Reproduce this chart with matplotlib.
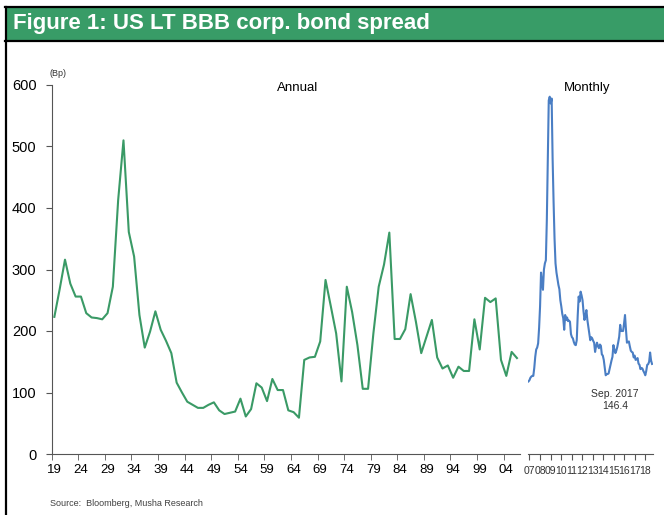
import matplotlib
matplotlib.use("Agg")
import matplotlib.pyplot as plt
from matplotlib.patches import Rectangle
from matplotlib.lines import Line2D
import numpy as np

plt.rcParams['font.family'] = ['Liberation Sans', 'DejaVu Sans']

# Annual spread 1919-2006 (bp)
years = np.arange(1919, 2007)
annual = [223, 268, 316, 277, 256, 256, 229, 222, 221, 219,
          229, 272, 413, 510, 361, 321, 226, 173, 199, 232,
          202, 184, 164, 116, 100, 85, 80, 75, 75, 80,
          84, 71, 65, 67, 69, 90, 61, 73, 115, 108,
          86, 122, 104, 104, 71, 68, 59, 153, 157, 158,
          183, 283, 240, 196, 118, 272, 231, 177, 106, 106,
          196, 272, 308, 360, 187, 187, 203, 260, 215, 164,
          191, 218, 157, 139, 144, 124, 142, 135, 135, 219,
          170, 254, 247, 253, 153, 127, 166, 156]
annual_labels = [f"{y % 100:02d}" for y in range(1919, 2005, 5)]

# Monthly spread Jan 2007 - Sep 2017 (bp)
monthly = [118, 120, 124, 126, 127, 127, 140, 158, 170, 173,
           180, 205, 240, 295, 280, 267, 300, 310, 315, 380,
           480, 575, 581, 570, 578, 480, 410, 350, 310, 295,
           285, 275, 268, 250, 240, 228, 221, 202, 226, 218,
           222, 216, 217, 215, 195, 190, 188, 182, 178, 177,
           185, 225, 256, 248, 264, 258, 250, 232, 218, 225,
           234, 218, 207, 195, 185, 190, 188, 184, 181, 166,
           175, 181, 175, 172, 178, 176, 162, 160, 153, 140,
           128, 130, 130, 131, 138, 145, 152, 158, 177, 170,
           164, 168, 174, 182, 191, 210, 200, 200, 200, 212,
           226, 202, 181, 182, 183, 175, 168, 166, 165, 157,
           160, 153, 154, 156, 147, 145, 138, 140, 139, 135,
           132, 128, 135, 145, 146, 150, 165, 152, 146.4]
month_labels = ["07", "08", "09", "10", "11", "12", "13", "14", "15", "16", "17", "18"]

green = "#3a9a66"
blue = "#4a7ec4"
spine_col = "#555555"

W, H = 664, 515
fig = plt.figure(figsize=(W / 100, H / 100), dpi=100)

def fx(px):
    return px / W

def fy(py):
    return 1 - py / H

# title bar
fig.add_artist(Rectangle((fx(5), fy(40.5)), 1 - fx(5), fy(6.5) - fy(40.5),
                         transform=fig.transFigure, facecolor="#389c67", edgecolor="none"))
fig.add_artist(Line2D([fx(5), 1], [fy(6.5), fy(6.5)], transform=fig.transFigure, color="black", lw=1.6))
fig.add_artist(Line2D([fx(5), 1], [fy(40.5), fy(40.5)], transform=fig.transFigure, color="black", lw=1.6))
fig.add_artist(Line2D([fx(6), fx(6)], [0, fy(6.5)], transform=fig.transFigure, color="black", lw=1.6))
fig.text(fx(13), fy(24), "Figure 1: US LT BBB corp. bond spread", color="white",
         fontsize=16, fontweight="bold", va="center", ha="left")

# annual panel
ax1 = fig.add_axes([fx(51.7), 1 - 454 / H, fx(519.6 - 51.7), 369 / H])
ax1.plot(years, annual, color=green, lw=1.5)
ax1.set_xlim(1918.5, 2006.5)
ax1.set_ylim(0, 600)
ax1.set_yticks(range(0, 601, 100))
ax1.set_xticks(np.arange(1919, 2005, 5))
ax1.set_xticklabels(annual_labels, fontsize=9.5)
ax1.set_xticks(np.arange(1918.5, 2004, 5), minor=True)
ax1.tick_params(axis="x", which="major", length=0, pad=7)
ax1.tick_params(axis="x", which="minor", length=4, color=spine_col, direction="out")
ax1.tick_params(axis="y", length=4, color=spine_col, labelsize=10.5, pad=7)
for s in ["top", "right"]:
    ax1.spines[s].set_visible(False)
for s in ["left", "bottom"]:
    ax1.spines[s].set_color(spine_col)
fig.text(fx(298), fy(88), "Annual", ha="center", va="center", fontsize=9.5)
fig.text(fx(58), fy(74), "(Bp)", ha="center", va="center", fontsize=6.5, color="#333333")

# monthly panel
idx = np.arange(len(monthly))
ax2 = fig.add_axes([fx(528), 1 - 454 / H, fx(125), 369 / H])
ax2.plot(idx, monthly, color=blue, lw=1.5)
ax2.set_xlim(-0.5, 129)
ax2.set_ylim(0, 600)
ax2.set_yticks([])
ax2.set_xticks(np.linspace(1, 121, 12))
ax2.set_xticklabels(month_labels, fontsize=7.5, color="#333333")
ax2.tick_params(axis="x", length=4, color=spine_col, pad=5)
for s in ["top", "right", "left"]:
    ax2.spines[s].set_visible(False)
ax2.spines["bottom"].set_color(spine_col)
fig.text(fx(587), fy(88), "Monthly", ha="center", va="center", fontsize=9.5)
fig.text(fx(615), fy(394), "Sep. 2017", ha="center", va="center", fontsize=7.5, color="#333333")
fig.text(fx(615), fy(406), "146.4", ha="center", va="center", fontsize=7.5, color="#333333")

fig.text(fx(50), fy(503), "Source:  Bloomberg, Musha Research", ha="left", va="center",
         fontsize=6.5, color="#404040")

fig.savefig("out.png", dpi=100)
